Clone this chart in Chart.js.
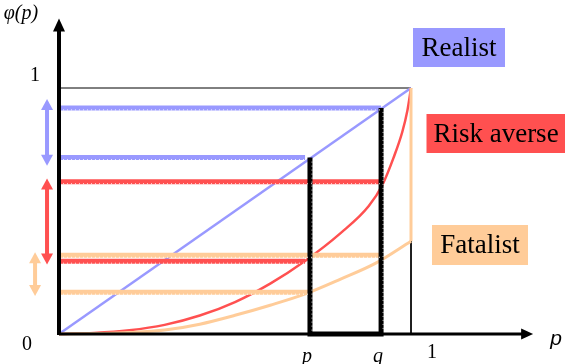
<!DOCTYPE html>
<html>
<head>
<meta charset="utf-8">
<script src="https://cdn.jsdelivr.net/npm/chart.js@4/dist/chart.umd.min.js"></script>
<style>
  html, body { margin: 0; padding: 0; background: #fff; }
  #wrap { width: 565px; height: 364px; position: relative; }
</style>
</head>
<body>
<div id="wrap"><canvas id="chart"></canvas></div>
<script>
// probability weighting sketch: realist / risk averse / fatalist

const pTick = 0.713;
const qTick = 0.915;

// curves
const riskX = [0, 0.1, 0.2, 0.3, 0.4, 0.5, 0.6, 0.7, 0.8, 0.88, 0.92, 0.95, 0.975, 0.99, 1];
const riskY = [0, 0.004, 0.015, 0.037, 0.075, 0.13, 0.205, 0.298, 0.41, 0.52, 0.61, 0.715, 0.82, 0.91, 1];
const fatalX = [0, 0.1, 0.2, 0.3, 0.4, 0.5, 0.6, 0.7, 0.8, 0.9, 1];
const fatalY = [0, 0.002, 0.006, 0.016, 0.04, 0.076, 0.117, 0.163, 0.223, 0.288, 0.377];

// phi(q), phi(p) levels for each profile and where the level lines stop
const realistLevels = [0.919, 0.717];
const riskLevels = [0.619, 0.296];
const fatalLevels = [0.32, 0.17];
const levelEnds = [0.915, 0.699];
const fatalEnds = [0.915, 0.713];

// double arrows on the left: [x, top, bottom]
const realistSpan = [-0.034, 0.955, 0.684];
const riskSpan = [-0.034, 0.632, 0.283];
const fatalSpan = [-0.068, 0.332, 0.154];

// axis ends
const xAxisEnd = 1.347;
const yAxisEnd = 1.283;

const xTickValues = [pTick, qTick, 1];
const xTickLabels = ['p', 'q', '1'];
const yTickValues = [0, 1];
const yTickLabels = ['0', '1'];

const profileNames = ['Realist', 'Risk averse', 'Fatalist'];

const colors = {
    realist: '#9999FF',
    risk: '#FF5050',
    fatal: '#FFCC99',
    ink: '#000000'
};

const SERIF = '"Liberation Serif", "Times New Roman", Times, serif';
const SANS = '"Liberation Sans", Arial, Helvetica, sans-serif';

function pts(xs, ys) {
    return xs.map((x, i) => ({ x: x, y: ys[i] }));
}

function line(data, color, width, order, extra) {
    return Object.assign({
        data: data,
        showLine: true,
        borderColor: color,
        backgroundColor: color,
        borderWidth: width,
        pointRadius: 0,
        fill: false,
        order: order
    }, extra || {});
}

const levelGroups = [
    [realistLevels, levelEnds, colors.realist],
    [riskLevels, levelEnds, colors.risk],
    [fatalLevels, fatalEnds, colors.fatal]
];
const spans = [[realistSpan, colors.realist], [riskSpan, colors.risk], [fatalSpan, colors.fatal]];

const datasets = [];
// thin frame at phi = 1 and p = 1
datasets.push(line([{ x: 0, y: 1 }, { x: 1, y: 1 }, { x: 1, y: 0 }], colors.ink, 1, 20));
// realist diagonal
datasets.push(line([{ x: 0, y: 0 }, { x: 1, y: 1 }], colors.realist, 2.5, 19));
// risk averse curve
datasets.push(line(pts(riskX, riskY), colors.risk, 2.5, 18, { cubicInterpolationMode: 'monotone' }));
// fatalist curve and its jump at p = 1
datasets.push(line(pts(fatalX, fatalY), colors.fatal, 3, 17, { cubicInterpolationMode: 'monotone' }));
datasets.push(line([{ x: 1, y: fatalY[fatalY.length - 1] }, { x: 1, y: 1 }], colors.fatal, 3, 17));
// level lines
levelGroups.forEach(([lv, ends, c]) => {
    lv.forEach((v, i) => {
        datasets.push(line([{ x: 0, y: v }, { x: ends[i], y: v }], c, 5, 15));
    });
});
// p and q verticals
datasets.push(line([
    { x: pTick, y: realistLevels[1] }, { x: pTick, y: 0 },
    { x: qTick, y: 0 }, { x: qTick, y: realistLevels[0] }
], colors.ink, 5, 10, { borderJoinStyle: 'miter' }));
// axes
datasets.push(line([{ x: 0, y: 0 }, { x: xAxisEnd - 0.02, y: 0 }], colors.ink, 3, 5));
datasets.push(line([{ x: 0, y: -0.004 }, { x: 0, y: yAxisEnd - 0.03 }], colors.ink, 4, 5));
// double arrow shafts
spans.forEach(([s, c]) => {
    datasets.push(line([{ x: s[0], y: s[1] - 0.03 }, { x: s[0], y: s[2] + 0.03 }], c, 4, 5));
});

function head(ctx, tx, ty, dx, dy, len, half, color) {
    const nx = -dy, ny = dx;
    ctx.beginPath();
    ctx.moveTo(tx, ty);
    ctx.lineTo(tx - dx * len + nx * half, ty - dy * len + ny * half);
    ctx.lineTo(tx - dx * len - nx * half, ty - dy * len - ny * half);
    ctx.closePath();
    ctx.fillStyle = color;
    ctx.fill();
}

// the thick lines in the original carry a row of little white ticks on one edge
function ticks(ctx, x1, y1, x2, y2) {
    ctx.save();
    ctx.strokeStyle = 'rgba(255,255,255,0.85)';
    ctx.lineWidth = 1;
    ctx.setLineDash([1, 3]);
    ctx.beginPath();
    ctx.moveTo(x1, y1);
    ctx.lineTo(x2, y2);
    ctx.stroke();
    ctx.restore();
}

const decorations = {
    id: 'decorations',
    afterDatasetsDraw(chart) {
        const ctx = chart.ctx;
        const xs = chart.scales.x, ys = chart.scales.y;
        const X = v => xs.getPixelForValue(v);
        const Y = v => ys.getPixelForValue(v);

        // white tick rows on the level lines and the verticals
        levelGroups.forEach(([lv, ends]) => {
            lv.forEach((v, i) => ticks(ctx, X(0) + 4, Y(v) + 2, X(ends[i]), Y(v) + 2));
        });
        ticks(ctx, X(pTick) + 2, Y(realistLevels[1]) + 4, X(pTick) + 2, Y(0) - 3);
        ticks(ctx, X(qTick) + 2, Y(realistLevels[0]) + 4, X(qTick) + 2, Y(0) - 3);

        ctx.save();
        // axis arrow heads
        head(ctx, X(xAxisEnd), Y(0), 1, 0, 12, 5.5, colors.ink);
        head(ctx, X(0), Y(yAxisEnd), 0, -1, 13, 6, colors.ink);

        // double arrow heads
        spans.forEach(([s, c]) => {
            head(ctx, X(s[0]), Y(s[1]), 0, -1, 11, 6, c);
            head(ctx, X(s[0]), Y(s[2]), 0, 1, 11, 6, c);
        });
        ctx.restore();

        ctx.save();
        ctx.fillStyle = colors.ink;
        ctx.textAlign = 'center';
        ctx.textBaseline = 'middle';

        // tick labels
        xTickValues.forEach((v, i) => {
            const lab = xTickLabels[i];
            ctx.font = (lab === '1' ? '' : 'italic ') + '20px ' + SERIF;
            ctx.fillText(lab, X(v) + (lab === '1' ? 21 : -3), Y(0) + (lab === '1' ? 19 : 23));
        });
        ctx.font = '20px ' + SERIF;
        yTickValues.forEach((v, i) => {
            ctx.fillText(yTickLabels[i], X(0) + (v === 0 ? -32 : -24), Y(v) + (v === 0 ? 11 : -12));
        });

        // axis titles
        ctx.font = 'italic 20px ' + SERIF;
        ctx.fillText('\u03C6(p)', 21, 14);
        ctx.font = 'italic 21px ' + SANS;
        ctx.fillText('p', 556, 339);

        // profile boxes
        const boxes = [
            { name: profileNames[0], color: colors.realist, cx: 459, cy: 47.5, w: 92, h: 39 },
            { name: profileNames[1], color: colors.risk, cx: 496, cy: 133.5, w: 139, h: 39 },
            { name: profileNames[2], color: colors.fatal, cx: 480, cy: 245, w: 96, h: 40 }
        ];
        boxes.forEach(b => {
            ctx.fillStyle = b.color;
            ctx.fillRect(b.cx - b.w / 2, b.cy - b.h / 2, b.w, b.h);
            ctx.fillStyle = colors.ink;
            ctx.font = '27px ' + SERIF;
            ctx.fillText(b.name, b.cx, b.cy + 1);
        });
        ctx.restore();
    }
};

new Chart(document.getElementById('chart'), {
    type: 'scatter',
    data: { datasets: datasets },
    options: {
        responsive: true,
        maintainAspectRatio: false,
        animation: false,
        layout: { padding: 0 },
        plugins: { legend: { display: false }, tooltip: { enabled: false } },
        scales: {
            x: { type: 'linear', display: false, min: -59 / 352, max: (565 - 59) / 352 },
            y: { type: 'linear', display: false, min: (334 - 364) / 246, max: 334 / 246 }
        }
    },
    plugins: [decorations]
});
</script>
</body>
</html>
